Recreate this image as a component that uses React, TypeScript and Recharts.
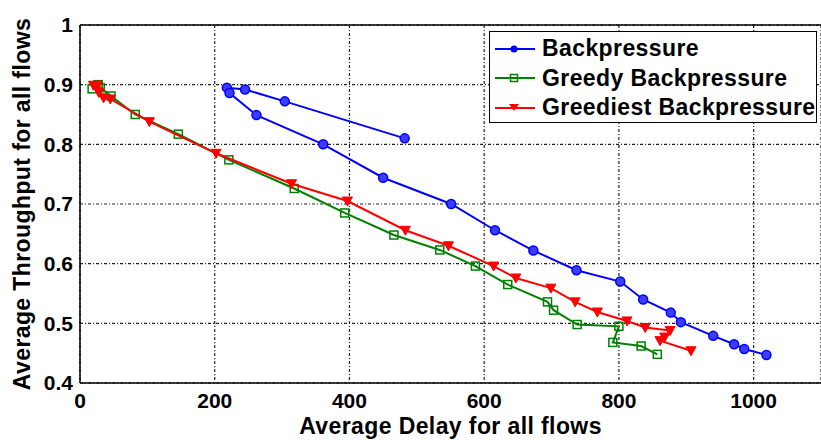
import { ScatterChart, Scatter, XAxis, YAxis, CartesianGrid, Legend, ReferenceLine } from 'recharts';

// values (delay, throughput)
const backpressureDelay = [482, 304, 245, 218, 222, 262, 361, 450, 551, 616, 673, 737, 802, 836, 877, 892, 940, 971, 986, 1019];
const backpressureThroughput = [0.81, 0.872, 0.892, 0.895, 0.886, 0.849, 0.8, 0.744, 0.7, 0.656, 0.622, 0.589, 0.57, 0.54, 0.518, 0.502, 0.479, 0.465, 0.457, 0.447];

const greedyDelay = [18, 27, 30, 46, 82, 146, 221, 318, 393, 466, 534, 587, 635, 694, 703, 738, 800, 791, 833, 857];
const greedyThroughput = [0.893, 0.9, 0.895, 0.881, 0.85, 0.817, 0.774, 0.726, 0.685, 0.648, 0.623, 0.596, 0.565, 0.536, 0.522, 0.498, 0.495, 0.468, 0.462, 0.448];

const greediestDelay = [20, 26, 28, 35, 45, 103, 202, 314, 397, 483, 547, 614, 647, 699, 735, 768, 812, 839, 876, 868, 861, 907];
const greediestThroughput = [0.899, 0.899, 0.887, 0.878, 0.876, 0.838, 0.785, 0.734, 0.705, 0.656, 0.63, 0.596, 0.576, 0.559, 0.536, 0.519, 0.504, 0.493, 0.488, 0.477, 0.471, 0.454];

const seriesNames = ['Backpressure', 'Greedy Backpressure', 'Greediest Backpressure'];
const xTicks = [0, 200, 400, 600, 800, 1000];
const yTicks = [0.4, 0.5, 0.6, 0.7, 0.8, 0.9, 1];

const FONT = '"Liberation Sans", Arial, Helvetica, sans-serif';
const BLUE = '#0000ff';
const GREEN = '#008000';
const RED = '#ff0000';

const toPoints = (xs: number[], ys: number[]) => xs.map((x, i) => ({ delay: x, throughput: ys[i] }));

const CircleMark = (p: any) => (
  <circle cx={p.cx} cy={p.cy} r={4.5} fill="#3c3cff" stroke={BLUE} strokeWidth={1.5} />
);
const SquareMark = (p: any) => (
  <rect x={p.cx - 4} y={p.cy - 4} width={8} height={8} fill="none" stroke={GREEN} strokeWidth={1.5} />
);
const TriangleMark = (p: any) => (
  <polygon
    points={`${p.cx - 5},${p.cy - 4} ${p.cx + 5},${p.cy - 4} ${p.cx},${p.cy + 5}`}
    fill={RED}
    stroke={RED}
    strokeWidth={1}
  />
);

function LegendBox() {
  const rows = [
    { name: seriesNames[0], color: BLUE, mark: <circle cx={19} cy={8} r={3.5} fill={BLUE} /> },
    { name: seriesNames[1], color: GREEN, mark: <rect x={15.5} y={4.5} width={7} height={7} fill="none" stroke={GREEN} strokeWidth={1.5} /> },
    { name: seriesNames[2], color: RED, mark: <polygon points="14,4 24,4 19,11" fill={RED} /> },
  ];
  return (
    <div
      style={{
        width: 328,
        height: 92,
        boxSizing: 'border-box',
        border: '1.5px solid #000',
        background: '#fff',
        paddingTop: 2,
      }}
    >
      {rows.map((r) => (
        <div key={r.name} style={{ display: 'flex', alignItems: 'center', height: 29.5 }}>
          <svg width={46} height={16} style={{ marginLeft: 5 }}>
            <line x1={0} y1={8} x2={40} y2={8} stroke={r.color} strokeWidth={2} />
            {r.mark}
          </svg>
          <span
            style={{
              fontFamily: FONT,
              fontWeight: 'bold',
              fontSize: 23,
              letterSpacing: 0.4,
              color: '#000',
              lineHeight: 1,
              marginLeft: 1,
            }}
          >
            {r.name}
          </span>
        </div>
      ))}
    </div>
  );
}

export default function App() {
  const tickStyle = { fill: '#000', fontSize: 21, fontWeight: 'bold', fontFamily: FONT };
  const labelStyle = { fill: '#000', fontSize: 23, fontWeight: 'bold', fontFamily: FONT, letterSpacing: 0.4 };
  return (
    <div style={{ width: 821, height: 440, background: '#fff' }}>
      <style>{'body{margin:0}'}</style>
      <ScatterChart width={821} height={440} margin={{ top: 25, right: 0, bottom: 0, left: 0 }}>
        <CartesianGrid stroke="#222" strokeWidth={1.2} strokeDasharray="3 2 1 2" />
        <XAxis
          type="number"
          dataKey="delay"
          domain={[0, 1100]}
          ticks={xTicks}
          height={57}
          tickSize={0}
          tickMargin={10}
          tick={tickStyle}
          axisLine={{ stroke: '#000', strokeWidth: 1.5 }}
          label={{ value: 'Average Delay for all flows', position: 'insideBottom', offset: 6, style: labelStyle }}
        />
        <YAxis
          type="number"
          dataKey="throughput"
          domain={[0.4, 1]}
          ticks={yTicks}
          width={80}
          tickSize={0}
          tickMargin={7}
          tick={tickStyle}
          tickFormatter={(v: number) => (v === 1 ? '1' : v.toFixed(1))}
          axisLine={{ stroke: '#000', strokeWidth: 1.5 }}
          label={{
            value: 'Average Throughput for all flows',
            angle: -90,
            position: 'insideLeft',
            offset: 22,
            style: { ...labelStyle, textAnchor: 'middle' },
          }}
        />
        <ReferenceLine y={1} stroke="#000" strokeWidth={1.5} />
        <Scatter
          name={seriesNames[0]}
          data={toPoints(backpressureDelay, backpressureThroughput)}
          line={{ stroke: BLUE, strokeWidth: 2 }}
          shape={CircleMark}
          isAnimationActive={false}
        />
        <Scatter
          name={seriesNames[1]}
          data={toPoints(greedyDelay, greedyThroughput)}
          line={{ stroke: GREEN, strokeWidth: 2 }}
          shape={SquareMark}
          isAnimationActive={false}
        />
        <Scatter
          name={seriesNames[2]}
          data={toPoints(greediestDelay, greediestThroughput)}
          line={{ stroke: RED, strokeWidth: 2 }}
          shape={TriangleMark}
          isAnimationActive={false}
        />
        <Legend
          layout="vertical"
          align="center"
          verticalAlign="middle"
          content={() => <LegendBox />}
          wrapperStyle={{ left: 489, top: 31, width: 328, height: 92 }}
        />
      </ScatterChart>
    </div>
  );
}
